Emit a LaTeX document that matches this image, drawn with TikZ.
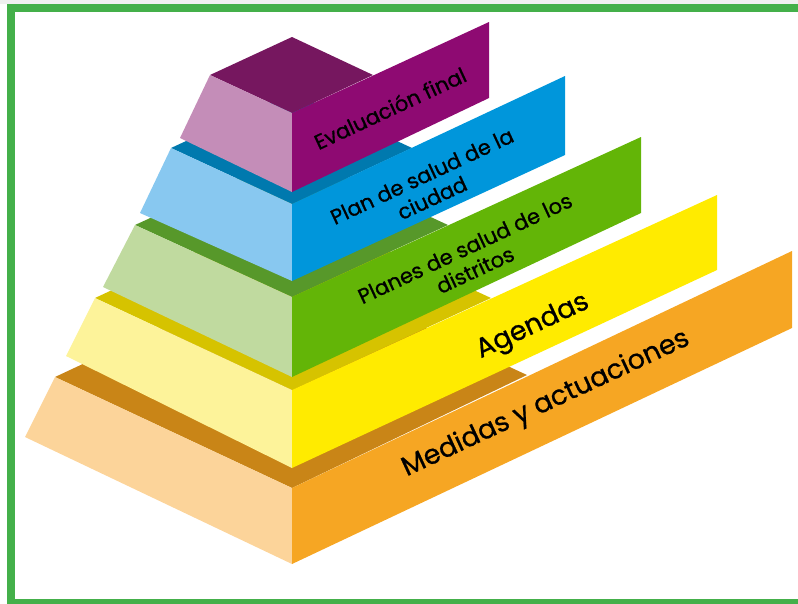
\documentclass[tikz,border=0pt]{standalone}
\usepackage{fontspec}
\setmainfont{Poppins}[FakeBold=0.8]
\definecolor{frameGreen}{HTML}{44B04A}
\definecolor{purpleTop}{HTML}{76175F}
\definecolor{purpleSide}{HTML}{C48DB8}
\definecolor{purpleBand}{HTML}{8E0A72}
\definecolor{blueTop}{HTML}{0079AE}
\definecolor{blueSide}{HTML}{88C8F0}
\definecolor{blueBand}{HTML}{0096DB}
\definecolor{greenTop}{HTML}{57982A}
\definecolor{greenSide}{HTML}{C0DA9F}
\definecolor{greenBand}{HTML}{63B507}
\definecolor{yellowTop}{HTML}{D6C300}
\definecolor{yellowSide}{HTML}{FDF39A}
\definecolor{yellowBand}{HTML}{FFEB00}
\definecolor{orangeTop}{HTML}{C98517}
\definecolor{orangeSide}{HTML}{FCD49A}
\definecolor{orangeBand}{HTML}{F6A623}

\begin{document}
\begin{tikzpicture}[x=1pt,y=-1pt,
  tag/.style={rotate=25,align=center,text=black,inner sep=0pt},
  small/.style={font=\fontsize{21}{24}\selectfont},
  large/.style={font=\fontsize{27}{30}\selectfont}]
\useasboundingbox (0,0) rectangle (798,603);
\fill[black!6] (0,0) rectangle (798,4);
\draw[frameGreen,line width=8pt] (11,8) rectangle (812,603);
% base: medidas
\fill[orangeTop] (292,488) -- (55,377) -- (292,266) -- (527,375) -- cycle;
\fill[orangeSide] (55,377) -- (292,488) -- (292,564) -- (25,437) -- cycle;
\fill[orangeBand] (292,488) -- (792,251) -- (792,328) -- (292,564) -- cycle;
% agendas
\fill[yellowTop] (292,390) -- (95,298) -- (292,206) -- (491,298) -- cycle;
\fill[yellowSide] (95,298) -- (292,390) -- (292,468) -- (66,356) -- cycle;
\fill[yellowBand] (292,390) -- (717,195) -- (717,270) -- (292,468) -- cycle;
% distritos
\fill[greenTop] (292,297) -- (135,225) -- (292,153) -- (448,225) -- cycle;
\fill[greenSide] (135,225) -- (292,297) -- (292,377) -- (103,287) -- cycle;
\fill[greenBand] (292,297) -- (641,137) -- (641,213) -- (292,377) -- cycle;
% ciudad
\fill[blueTop] (292,204) -- (171,148) -- (292,92) -- (412,148) -- cycle;
\fill[blueSide] (171,148) -- (292,204) -- (292,281) -- (140,213) -- cycle;
\fill[blueBand] (292,204) -- (565,76) -- (565,155) -- (292,281) -- cycle;
% top: evaluacion
\fill[purpleTop] (292,113) -- (210,75) -- (292,37) -- (373,75) -- cycle;
\fill[purpleSide] (210,75) -- (292,113) -- (292,192) -- (180,138) -- cycle;
\fill[purpleBand] (292,113) -- (489,22) -- (489,98) -- (292,192) -- cycle;
% labels
\node[tag,small] (evaluacion) at (390,108) {Evaluación final};
\node[tag,small] (ciudad) at (427,187) {Plan de salud de la\\ciudad};
\node[tag,small] (distritos) at (470,259) {Planes de salud de los\\distritos};
\node[tag,large] (agendas) at (533,327) {Agendas};
\node[tag,large] (medidas) at (546,404) {Medidas y actuaciones};
\end{tikzpicture}
\end{document}
